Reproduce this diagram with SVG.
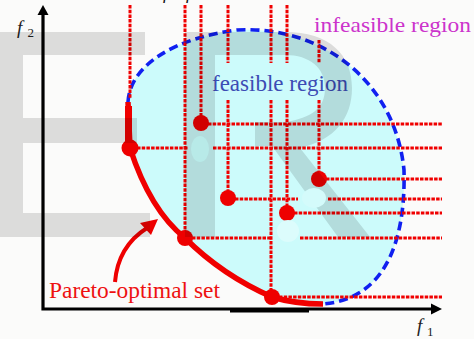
<svg xmlns="http://www.w3.org/2000/svg" width="474" height="339" viewBox="0 0 474 339">
<style>
.dot{stroke:#f00000;stroke-width:3;stroke-dasharray:3.5 1.2;fill:none}
.pt{fill:#ee0000}
.lbl{font-family:"Liberation Serif","Times New Roman",serif}
.ax{stroke:#000;stroke-width:3.2;fill:none}
.wm{fill:#000;fill-opacity:0.12}
</style>
<rect width="474" height="339" fill="#fbfbfa"/>
<g id="feasible">
<path d="M128,102 C130,65 175,38 237,30 C320,25 395,80 404,170 C406,250 380,300 322,304 Q295,304 272,297 Q222,275 185,238 Q150,210 130,148 Z" fill="#ccfbfb"/>
<path d="M128,102 C130,65 175,38 237,30 C320,25 395,80 404,170 C406,250 380,300 322,304" fill="none" stroke="#1020f0" stroke-width="3.6" stroke-dasharray="9 5"/>
</g>
<g id="connectors">
<path class="dot" d="M130,5 V98 M185,5 V238 M201,5 V123 M228,5 V63 M228,100 V198 M271,5 V63 M271,100 V297 M287,5 V63 M287,100 V213 M319,40 V63 M319,100 V179"/>
<path class="dot" d="M137,148 H188 M213,148 H442 M208,124 H442 M326,179 H442 M235,199 H298 M328,199 H442 M294,213 H442 M192,238 H271 M300,238 H442 M279,297 H442"/>
<path d="M115,282 C117,258 128,240 147,228" fill="none" stroke="#ee0000" stroke-width="4"/>
<polygon points="158,219 140,223 151,235" fill="#ee0000"/>
</g>
<g id="pareto">
<rect x="125" y="106" width="7" height="40" fill="#f00000"/>
<path d="M128,102 L130,148 Q150,210 185,238 Q222,275 272,297 Q295,304 323,304" fill="none" stroke="#f00000" stroke-width="5.5"/>
</g>
<g id="points">
<circle class="pt" cx="130" cy="148" r="8.5"/>
<circle class="pt" cx="185" cy="238" r="8"/>
<circle class="pt" cx="272" cy="297" r="8"/>
<circle class="pt" cx="201" cy="123" r="8"/>
<circle class="pt" cx="228" cy="198" r="8"/>
<circle class="pt" cx="287" cy="213" r="8"/>
<circle class="pt" cx="319" cy="179" r="8"/>
</g>
<g id="axes">
<path class="ax" d="M43,14 V309 H432"/>
<rect x="230" y="309" width="79" height="3.5" fill="#000"/>
<polygon points="43,5 37.5,15 48.5,15" fill="#000"/>
<polygon points="442,309 431,303.5 431,314.5" fill="#000"/>
</g>
<g id="labels" class="lbl">
<text x="17" y="33.5" font-size="19" font-style="italic" fill="#222">f<tspan x="27.5" y="37" font-size="13" font-style="normal">2</tspan></text>
<text x="417" y="332" font-size="19" font-style="italic" fill="#222">f<tspan x="427" y="336" font-size="13" font-style="normal">1</tspan></text>
<text x="163" y="-1" font-size="18" font-style="italic" fill="#111">f<tspan x="186">f</tspan></text>
<text x="314" y="32" font-size="21" fill="#cc33cc" textLength="157" lengthAdjust="spacingAndGlyphs">infeasible region</text>
<text x="212" y="91" font-size="23" fill="#3c4cb4" textLength="136" lengthAdjust="spacingAndGlyphs">feasible region</text>
<text x="49" y="298" font-size="23" fill="#ee1111" textLength="171" lengthAdjust="spacingAndGlyphs">Pareto-optimal set</text>
</g>
<g id="watermark">
<path class="wm" d="M0,32 H145 V55 H23 V118 H137 V143 H23 V213 H150 V237 H0 Z"/>
<path class="wm" d="M185,32 H285 C330,32 352,55 352,88 C352,118 335,140 300,148 L370,237 H338 L272,146 H255 V122 H285 C312,118 325,108 325,88 C325,68 310,55 285,55 H215 V237 H185 Z"/>
<ellipse cx="200" cy="149" rx="9" ry="13" fill="#b8eae8"/>
<ellipse cx="314" cy="198" rx="12" ry="10" fill="#d4fbfb"/>
<ellipse cx="288" cy="231" rx="11" ry="11" fill="#dcfcfc"/>
</g>
</svg>
